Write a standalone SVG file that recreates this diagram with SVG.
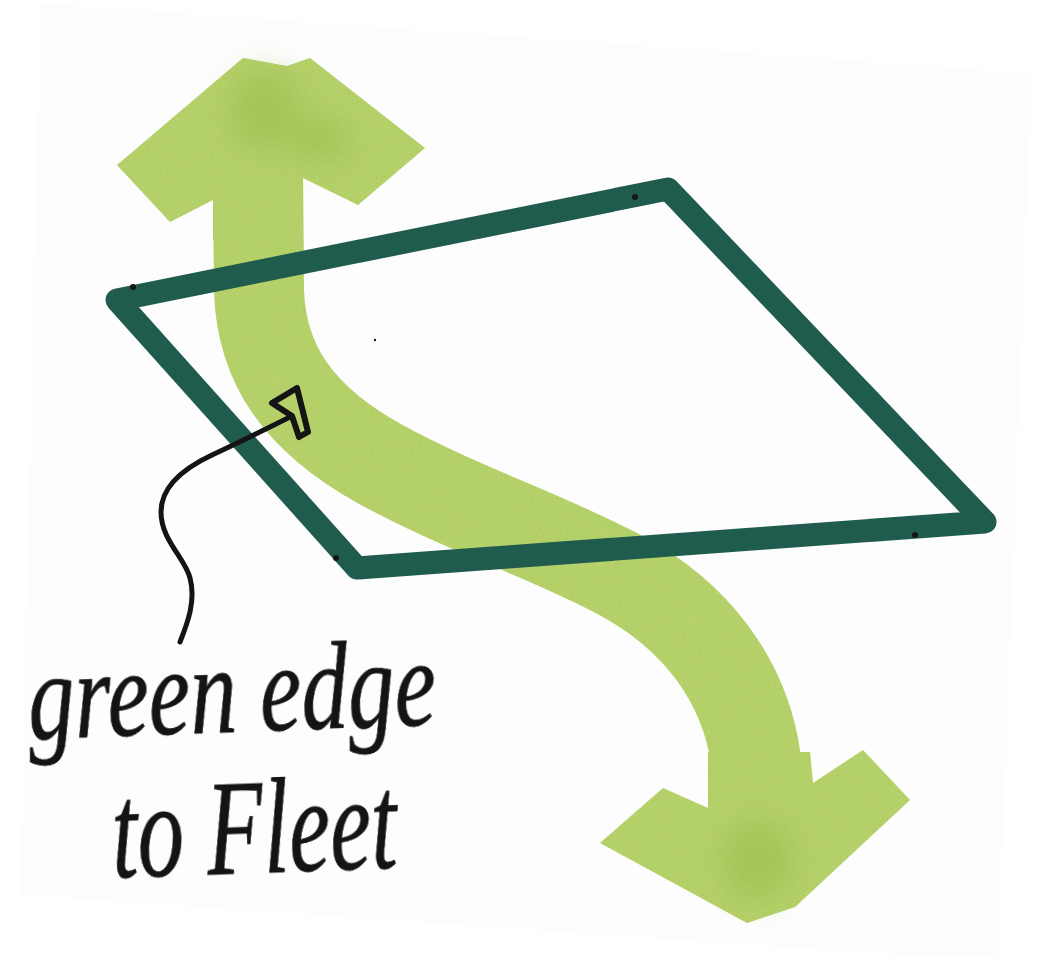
<svg xmlns="http://www.w3.org/2000/svg" width="1059" height="957" viewBox="0 0 1059 957">
  <defs>
    <style>
      .marker { fill: #b2cf63; }
      .band { fill: none; stroke: #b2cf63; stroke-width: 90; stroke-linecap: butt; }
      .frame { fill: none; stroke: #205c4e; stroke-width: 23; stroke-linejoin: round; stroke-linecap: round; }
      .dot { fill: #151515; }
      .pen { fill: none; stroke: #141414; stroke-width: 5; stroke-linecap: round; stroke-linejoin: round; }
      .hand { font-family: "Liberation Serif", "DejaVu Serif", serif; font-style: italic; fill: #141414; stroke: #141414; stroke-width: 0.8; stroke-linejoin: round; }
      .blot { fill: #98b945; opacity: 0.5; }
    </style>
    <filter id="tex" x="-5%" y="-5%" width="110%" height="110%">
      <feTurbulence type="fractalNoise" baseFrequency="0.6" numOctaves="2" seed="4" result="noise"/>
      <feColorMatrix in="noise" type="matrix" values="0 0 0 0 0.50  0 0 0 0 0.66  0 0 0 0 0.20  0 0 0 2.2 -0.9" result="spots"/>
      <feComposite in="spots" in2="SourceGraphic" operator="in" result="clipped"/>
      <feMerge><feMergeNode in="SourceGraphic"/><feMergeNode in="clipped"/></feMerge>
    </filter>
    <filter id="soft" x="-50%" y="-50%" width="200%" height="200%">
      <feGaussianBlur stdDeviation="14"/>
    </filter>
  </defs>

  <rect width="1059" height="957" fill="#ffffff"/>
  <polygon id="paper" points="40,3 1032,73 998,962 20,895" fill="#fdfdfd"/>

  <g id="green-arrow">
    <g filter="url(#tex)">
      <path class="band" d="M258,170 L259,290 C261,365 300,420 380,464 C460,508 545,535 620,575 C695,615 745,680 756,760 L758,840"/>
      <polygon class="marker" points="117,165 243,58 287,66 310,58 425,148 358,205 303,178 303,240 213,240 213,200 170,222"/>
      <polygon class="marker" points="600,843 663,788 708,808 708,752 810,752 813,783 863,750 910,800 795,907 747,923"/>
    </g>
    <g filter="url(#soft)">
      <ellipse class="blot" cx="265" cy="110" rx="35" ry="40"/>
      <ellipse class="blot" cx="320" cy="140" rx="30" ry="22"/>
      <ellipse class="blot" cx="758" cy="860" rx="35" ry="40"/>
    </g>
  </g>

  <g id="frame">
    <path class="frame" d="M117,300 L668,189 Q 830,360 985,522 L357,568 Z"/>
    <circle class="dot" cx="133" cy="287" r="3"/>
    <circle class="dot" cx="635" cy="197" r="3"/>
    <circle class="dot" cx="915" cy="535" r="3"/>
    <circle class="dot" cx="336" cy="558" r="3"/>
    <circle class="dot" cx="375" cy="340" r="1.2"/>
  </g>

  <g id="connectors">
    <path class="pen" d="M180,642 C188,622 196,600 190,578 C185,558 161,540 161,512 C161,488 180,470 212,455 C240,442 268,428 292,416"/>
    <path class="pen" style="stroke-width:6" d="M272,403 L297,388 L308,432 L299,437 L292,416 Z"/>
  </g>

  <g id="label">
    <text class="hand" x="28" y="732" font-size="125" textLength="408" lengthAdjust="spacingAndGlyphs" transform="rotate(-2 230 700)">green edge</text>
    <text class="hand" x="112" y="873" font-size="135" textLength="285" lengthAdjust="spacingAndGlyphs" transform="rotate(-2 250 840)">to Fleet</text>
  </g>
</svg>
